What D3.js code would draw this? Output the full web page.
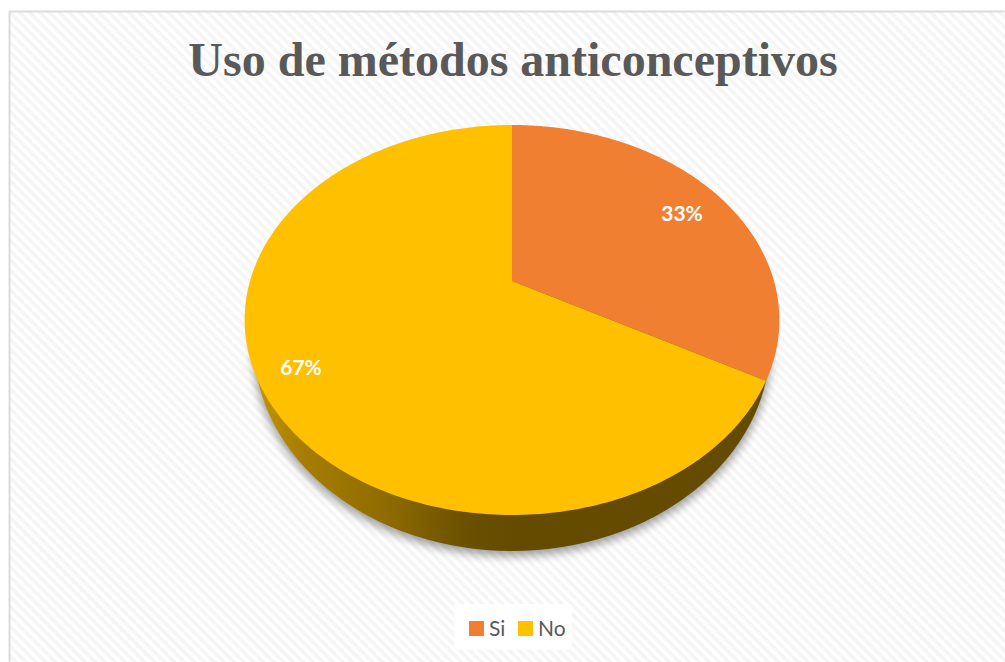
<!DOCTYPE html>
<html>
<head>
<meta charset="utf-8">
<script src="https://cdn.jsdelivr.net/npm/d3@7"></script>
<style>
  html, body { margin: 0; padding: 0; background: #fff; overflow: hidden; }
  text { font-family: Lato, sans-serif; }
</style>
</head>
<body>
<svg id="chart" width="1005" height="662"></svg>
<script>
var chartTitle = "Uso de métodos anticonceptivos";
var categories = ["Si", "No"];
var seriesValues = [33, 67];
var sliceColors = ["#f07f32", "#ffc000"];
var sideStops = [0, 0.18, 0.5, 0.82, 1];
var sideColors = ["#c29200", "#a67d00", "#8f6c00", "#6a5000", "#644b00"];

var W = 1005, H = 662;
var svg = d3.select("#chart");
var defs = svg.append("defs");

// background hatch
var hatch = defs.append("pattern")
  .attr("id", "hatch")
  .attr("patternUnits", "userSpaceOnUse")
  .attr("width", 7).attr("height", 7)
  .attr("patternTransform", "rotate(45)");
hatch.append("rect").attr("width", 7).attr("height", 7).attr("fill", "#ffffff");
hatch.append("rect").attr("width", 7).attr("height", 3.5).attr("fill", "#f5f5f5");

svg.append("rect").attr("x", 9.5).attr("y", 11.5)
  .attr("width", W).attr("height", H)
  .attr("fill", "url(#hatch)")
  .attr("stroke", "#dcdcdc").attr("stroke-width", 2);

svg.append("text")
  .attr("x", 513).attr("y", 76)
  .attr("text-anchor", "middle")
  .style("font-family", "'Liberation Serif', serif")
  .style("font-weight", "bold")
  .style("font-size", "48px")
  .attr("fill", "#595959")
  .text(chartTitle);

// the pie is tilted in perspective, so the apex sits above the ellipse centre
var apexX = 512, apexY = 281, halfWidth = 262, tiltA = 187.2, tiltK = 0.2;
function project(angle) {
  var u = Math.sin(angle), v = Math.cos(angle);
  var w = 1 + tiltK * v;
  return [apexX + halfWidth * u / w, apexY - tiltA * v / w];
}
function arcPoints(a0, a1) {
  return d3.range(0, 241).map(function(i) {
    return project(a0 + (a1 - a0) * i / 240);
  });
}
var line = d3.line();

var pie = d3.pie().sort(null)(seriesValues);

// gradient along the wall
var grad = defs.append("linearGradient")
  .attr("id", "side")
  .attr("gradientUnits", "userSpaceOnUse")
  .attr("x1", 259).attr("x2", 512).attr("y1", 0).attr("y2", 0);
sideStops.forEach(function(s, i) {
  grad.append("stop").attr("offset", s).attr("stop-color", sideColors[i]);
});
var blur = defs.append("filter").attr("id", "soft")
  .attr("x", "-10%").attr("y", "-10%").attr("width", "120%").attr("height", "120%");
blur.append("feGaussianBlur").attr("stdDeviation", 5);

// wall: lower rim of the pie, seen below the top face
var wallShape = { cx: 512, cy: 344.5, rx: 258, ry: 206.5 };
svg.append("ellipse")
  .attr("cx", wallShape.cx).attr("cy", wallShape.cy + 5)
  .attr("rx", wallShape.rx + 1).attr("ry", wallShape.ry)
  .attr("fill", "#000").attr("opacity", 0.38)
  .attr("filter", "url(#soft)");
svg.append("ellipse")
  .attr("cx", wallShape.cx).attr("cy", wallShape.cy)
  .attr("rx", wallShape.rx).attr("ry", wallShape.ry)
  .attr("fill", "url(#side)");

// top face
svg.selectAll("path.slice").data(pie).enter().append("path")
  .attr("class", "slice")
  .attr("fill", function(d, i) { return sliceColors[i]; })
  .attr("d", function(d) {
    return line([[apexX, apexY]].concat(arcPoints(d.startAngle, d.endAngle))) + "Z";
  });

// data labels
svg.selectAll("text.val").data(pie).enter().append("text")
  .attr("class", "val")
  .attr("text-anchor", "middle")
  .attr("fill", "#fff")
  .style("font-weight", "bold")
  .style("font-size", "21px")
  .attr("x", function(d, i) { return [682, 301][i]; })
  .attr("y", function(d, i) { return [221, 375][i]; })
  .text(function(d) { return d.value + "%"; });

// legend
svg.append("rect").attr("x", 454).attr("y", 604).attr("width", 118).attr("height", 46)
  .attr("fill", "#fff").attr("opacity", 0.85);
var legendX = d3.scaleOrdinal().domain(categories).range([469, 518]);
var legend = svg.selectAll("g.leg").data(categories).enter().append("g").attr("class", "leg")
  .attr("transform", function(d) { return "translate(" + legendX(d) + ",621)"; });
legend.append("rect").attr("width", 15).attr("height", 15)
  .attr("fill", function(d, i) { return sliceColors[i]; });
legend.append("text").attr("x", 20).attr("y", 14.5)
  .attr("fill", "#595959").style("font-size", "21px")
  .text(function(d) { return d; });
</script>
</body>
</html>
